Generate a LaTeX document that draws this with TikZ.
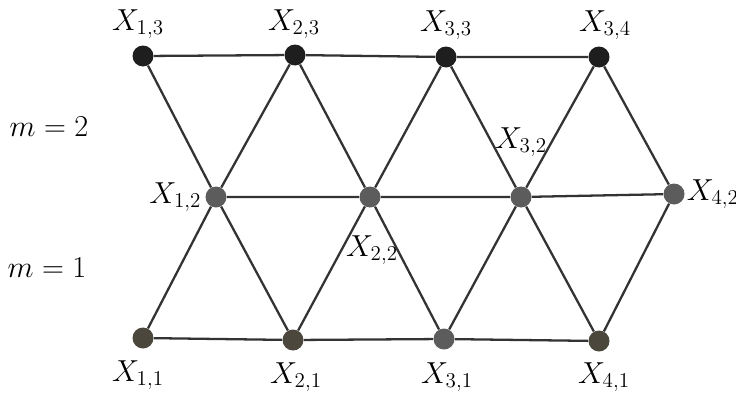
\documentclass[tikz,border=0pt]{standalone}
\usepackage{tikz}
\usepackage{xcolor}
\usetikzlibrary{positioning}
\definecolor{lgtop}{HTML}{1E1E1E}
\definecolor{lgmid}{HTML}{5C5C5C}
\definecolor{lgbot}{HTML}{4B473C}
\definecolor{lgedge}{HTML}{333333}

\begin{document}
\begin{tikzpicture}[x=0.02cm, y=-0.02cm,
  vertex/.style={circle, inner sep=0pt, minimum size=0.42cm},
  lbl/.style={inner sep=1pt, font=\fontsize{18}{20}\selectfont},
  edge/.style={draw=lgedge, line width=1.3pt},
]
\useasboundingbox (0, 0) rectangle (736, 396);
% vertices, level 3
\node[vertex, fill=lgtop] (x13) at (143, 56) {};
\node[vertex, fill=lgtop] (x23) at (295, 55) {};
\node[vertex, fill=lgtop] (x33) at (446, 57) {};
\node[vertex, fill=lgtop] (x34) at (599, 57) {};
% vertices, level 2
\node[vertex, fill=lgmid] (x12) at (216, 197) {};
\node[vertex, fill=lgmid] (x22) at (370, 197) {};
\node[vertex, fill=lgmid] (x32) at (521, 197) {};
\node[vertex, fill=lgmid] (x42) at (674, 194) {};
% vertices, level 1
\node[vertex, fill=lgbot] (x11) at (143, 338) {};
\node[vertex, fill=lgbot] (x21) at (293, 340) {};
\node[vertex, fill=lgmid] (x31) at (444, 339) {};
\node[vertex, fill=lgbot] (x41) at (599, 341) {};
% edges
\draw[edge] (x13) -- (x23) -- (x33) -- (x34);
\draw[edge] (x12) -- (x22) -- (x32) -- (x42);
\draw[edge] (x11) -- (x21) -- (x31) -- (x41);
\draw[edge] (x13) -- (x12) -- (x23) -- (x22) -- (x33) -- (x32) -- (x34) -- (x42);
\draw[edge] (x11) -- (x12) -- (x21) -- (x22) -- (x31) -- (x32) -- (x41) -- (x42);
% labels
\node[lbl] (l13) at (138, 24) {$X_{1,3}$};
\node[lbl] (l23) at (294, 24) {$X_{2,3}$};
\node[lbl] (l33) at (446, 25) {$X_{3,3}$};
\node[lbl] (l34) at (605, 25) {$X_{3,4}$};
\node[lbl, left=1pt of x12] (l12) {$X_{1,2}$};
\node[lbl] (l22) at (372, 250) {$X_{2,2}$};
\node[lbl] (l32) at (521, 142) {$X_{3,2}$};
\node[lbl, right=0pt of x42] (l42) {$X_{4,2}$};
\node[lbl] (l11) at (138, 375) {$X_{1,1}$};
\node[lbl] (l21) at (296, 377) {$X_{2,1}$};
\node[lbl] (l31) at (447, 377) {$X_{3,1}$};
\node[lbl] (l41) at (604, 377) {$X_{4,1}$};
\node[lbl] (m2) at (49, 127) {$m=2$};
\node[lbl] (m1) at (47, 268) {$m=1$};
\end{tikzpicture}
\end{document}
